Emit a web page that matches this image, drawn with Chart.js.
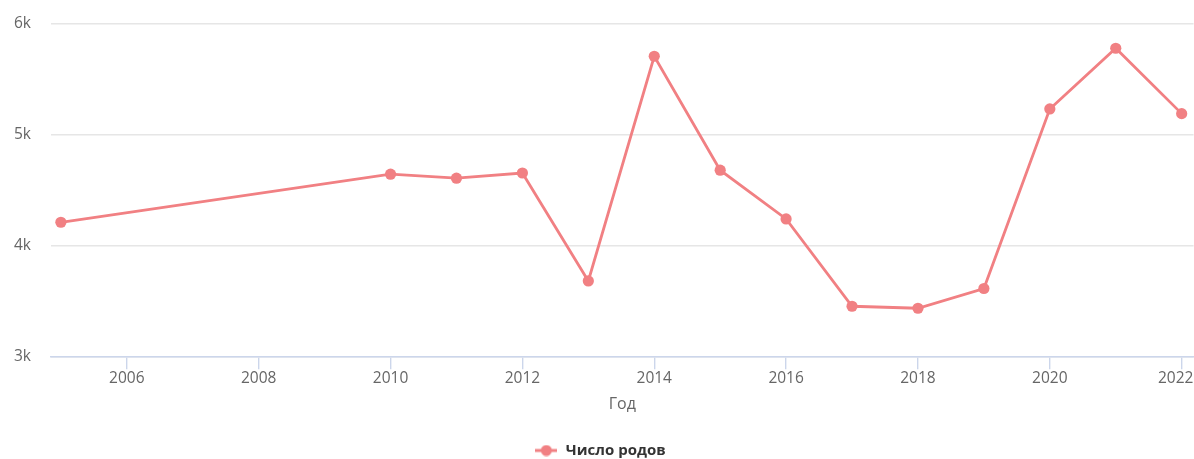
<!DOCTYPE html>
<html><head><meta charset="utf-8">
<script src="https://cdn.jsdelivr.net/npm/chart.js@4.4.1/dist/chart.umd.min.js"></script>
<style>html,body{margin:0;padding:0;background:#fff;overflow:hidden}#w{width:1194px;height:459px;position:relative;overflow:hidden}#c{position:absolute;left:0;top:-6px}</style>
</head><body><div id="w"><canvas id="c" width="1206" height="465"></canvas></div>
<script>
const years = [2005, 2010, 2011, 2012, 2013, 2014, 2015, 2016, 2017, 2018, 2019, 2020, 2021, 2022];
const births = [4207, 4640, 4604, 4651, 3678, 5703, 4676, 4237, 3450, 3432, 3610, 5228, 5775, 5186];
const xTicks = [2006, 2008, 2010, 2012, 2014, 2016, 2018, 2020, 2022];
const yTicks = [3000, 4000, 5000, 6000];
const seriesName = 'Число родов';
const xTitle = 'Год';
const col = 'rgb(241,128,131)';
const FF = 'Open Sans, DejaVu Sans, sans-serif';

const mk = document.createElement('canvas');
mk.width = 22; mk.height = 12;
const g = mk.getContext('2d');
g.strokeStyle = col; g.lineWidth = 3;
g.beginPath(); g.moveTo(0, 6); g.lineTo(22, 6); g.stroke();
g.fillStyle = col; g.beginPath(); g.arc(11, 6, 5.5, 0, Math.PI * 2); g.fill();

const lastTick = xTicks[xTicks.length - 1];

new Chart(document.getElementById('c'), {
  type: 'line',
  data: { datasets: [{
    label: seriesName,
    data: years.map((y, i) => ({ x: y, y: births[i] })),
    borderColor: col, backgroundColor: col,
    borderWidth: 2.8, pointRadius: 5.6, pointHoverRadius: 5.6,
    pointBackgroundColor: col, pointBorderWidth: 0, tension: 0
  }]},
  options: {
    responsive: false, animation: false,
    layout: { padding: { top: 0, right: 0, left: -6, bottom: -9 } },
    plugins: {
      tooltip: { enabled: false },
      legend: {
        position: 'bottom',
        labels: {
          usePointStyle: true, pointStyleWidth: 24, padding: 6,
          font: { family: FF, size: 15, weight: 'bold' },
          color: '#333333',
          generateLabels: (chart) => [{
            text: seriesName, pointStyle: mk, fillStyle: col, strokeStyle: col,
            lineWidth: 0, hidden: false, datasetIndex: 0, fontColor: '#333333'
          }]
        }
      }
    },
    scales: {
      x: {
        type: 'linear', min: 2004.85, max: 2022.18,
        afterBuildTicks: (s) => { s.ticks = xTicks.map(v => ({ value: v })); },
        ticks: {
          callback: (v) => v === lastTick ? String(v) + '   ' : String(v),
          color: '#666666', padding: 0.5,
          font: { family: FF, size: 15.5 },
          maxRotation: 0, autoSkip: false
        },
        grid: { drawOnChartArea: false, drawTicks: true, tickLength: 13, color: '#ccd6eb', lineWidth: 1.4 },
        border: { display: true, color: '#ccd6eb', width: 1.4 },
        title: {
          display: true, text: xTitle, color: '#666666',
          font: { family: FF, size: 16 },
          padding: { top: 6, bottom: 23 }
        }
      },
      y: {
        min: 3000, max: 6000,
        afterBuildTicks: (s) => { s.ticks = yTicks.map(v => ({ value: v })); },
        ticks: {
          callback: (v) => (v / 1000) + 'k', color: '#666666', padding: 20,
          font: { family: FF, size: 15.5 }
        },
        grid: { color: '#e6e6e6', drawTicks: false, lineWidth: 1.4 },
        border: { display: false }
      }
    }
  }
});
</script></body></html>
